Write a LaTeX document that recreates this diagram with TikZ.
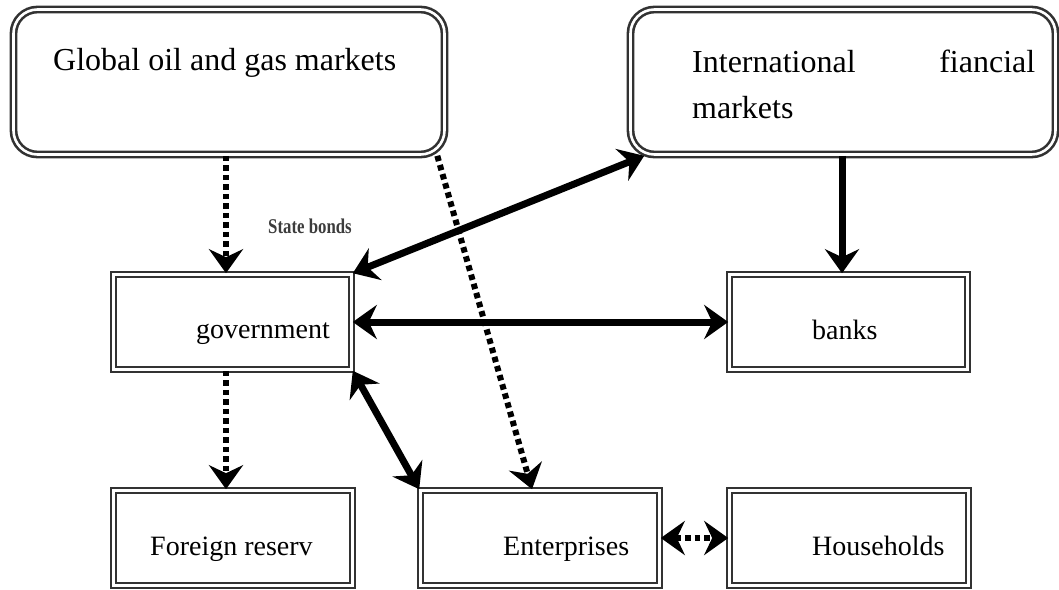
\documentclass[tikz,border=0pt]{standalone}
\usepackage{fontspec}
\usepackage{graphicx}
\setmainfont{Liberation Serif}
\usetikzlibrary{arrows.meta}
\definecolor{boxgray}{RGB}{50,50,50}
\definecolor{labgray}{RGB}{60,60,60}
\begin{document}
\begin{tikzpicture}[x=1pt,y=-1pt,
  >={Stealth[length=24pt,width=34pt,inset=8pt]},
  dblbox/.style={draw=boxgray,double=white,line width=2.6pt,double distance=2.6pt,
    rectangle,inner sep=0pt,minimum width=238pt,minimum height=95pt},
  roundbox/.style={dblbox,rounded corners=24pt,minimum height=145pt},
  bigtxt/.style={inner sep=0pt,font=\fontsize{32}{46}\selectfont},
  smalltxt/.style={inner sep=0pt,font=\fontsize{28}{34}\selectfont},
  solidarrow/.style={line width=7pt},
  dotarrow/.style={line width=6pt,dash pattern=on 5.5pt off 4pt}
]
\useasboundingbox (0,0) rectangle (1059,589);

% boxes
\node[roundbox,minimum width=431pt] (glob) at (229,82) {};
\node[roundbox,minimum width=425pt] (intl) at (843,82) {};
\node[dblbox] (gov) at (232.5,322) {};
\node[dblbox] (banks) at (848.5,322) {};
\node[dblbox,minimum width=239pt] (forres) at (233,538) {};
\node[dblbox,minimum width=239pt] (ent) at (540,538) {};
\node[dblbox,minimum width=239pt] (hh) at (849,538) {};

% texts
\node[bigtxt,anchor=base west] (globtxt) at (53,70) {Global oil and gas markets};
\node[bigtxt,anchor=north west,text width=343pt,align=justify] (intltxt) at (692,50)
  {International fiancial \mbox{markets}};
\node[smalltxt,anchor=base west] (govtxt) at (196,338) {government};
\node[smalltxt,anchor=base west] (bankstxt) at (812,339) {banks};
\node[smalltxt,anchor=base west] (forrestxt) at (150,555) {Foreign reserv};
\node[smalltxt,anchor=base west] (enttxt) at (503,555) {Enterprises};
\node[smalltxt,anchor=base west] (hhtxt) at (812,555) {Households};
\node[inner sep=0pt,anchor=base west,text=labgray,font=\fontsize{21}{24}\selectfont\bfseries]
  (bonds) at (268,233) {\scalebox{0.8}[1]{State bonds}};

% connectors
\draw[dotarrow,->] ([xshift=-3pt]glob.south) -- ([xshift=-6.5pt]gov.north);
\draw[dotarrow,->] ([xshift=-8.5pt]glob.south east) -- ([xshift=-8pt]ent.north);
\draw[solidarrow,<->] (gov.north east) -- ([xshift=15pt]intl.south west);
\draw[solidarrow,<->] (gov.east) -- (banks.west);
\draw[solidarrow,<->] (gov.south east) -- (ent.north west);
\draw[solidarrow,->] ([xshift=-1pt]intl.south) -- ([xshift=-6.5pt]banks.north);
\draw[dotarrow,->] ([xshift=-6.5pt]gov.south) -- ([xshift=-7pt]forres.north);
\draw[dotarrow,<->] (ent.east) -- (hh.west);
\end{tikzpicture}
\end{document}
